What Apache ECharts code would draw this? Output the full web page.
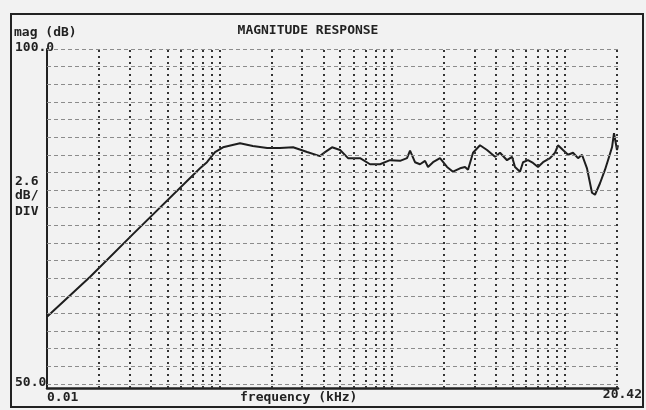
<!DOCTYPE html>
<html>
<head>
<meta charset="utf-8">
<title>Magnitude Response</title>
<script src="https://cdn.jsdelivr.net/npm/echarts@6/dist/echarts.min.js"></script>
<style>
  html, body { margin: 0; padding: 0; background: #f2f2f2; }
  #chart { width: 646px; height: 410px; }
</style>
</head>
<body>
<div id="chart"></div>
<script>
// 频率 (kHz)
const freq = [
  0.01, 0.0178, 0.0315, 0.0771, 0.0846, 0.0942, 0.1048, 0.1315, 0.156, 0.189,
  0.224, 0.267, 0.322, 0.382, 0.409, 0.449, 0.5, 0.556, 0.653, 0.746,
  0.852, 0.974, 1.113, 1.222, 1.272, 1.359, 1.453, 1.554, 1.617, 1.729,
  1.898, 2.084, 2.257, 2.479, 2.65, 2.758, 2.949, 3.237, 3.554, 3.955,
  4.228, 4.642, 4.963, 5.164, 5.521, 5.747, 6.144, 6.568, 7.022, 7.506,
  8.241, 8.81, 9.17, 9.8, 10.48, 11.2, 11.98, 12.63, 13.5, 14.43,
  15.02, 16.06, 17.17, 17.87, 18.85, 19.36, 20.15, 20.42
];
// 幅值 (dB)
const mag = [
  60.5, 66.4, 72.7, 82.4, 83.3, 84.8, 85.5, 86.1, 85.7, 85.4,
  85.4, 85.5, 84.8, 84.2, 84.8, 85.5, 85.1, 83.9, 83.9, 83.0,
  83.0, 83.6, 83.5, 83.9, 85.0, 83.3, 83.0, 83.5, 82.6, 83.3,
  83.9, 82.6, 81.9, 82.4, 82.6, 82.2, 84.7, 85.8, 85.1, 84.1,
  84.7, 83.6, 84.1, 82.6, 81.9, 83.3, 83.6, 83.2, 82.6, 83.3,
  83.9, 84.7, 85.8, 85.1, 84.4, 84.7, 83.9, 84.4, 82.4, 78.8,
  78.5, 80.2, 82.2, 83.6, 85.5, 87.6, 85.1, 85.8
];
// 竖向网格 (kHz)
const vGrid = [
  0.02, 0.03, 0.04, 0.05, 0.06, 0.07, 0.08, 0.09,
  0.1, 0.2, 0.3, 0.4, 0.5, 0.6, 0.7, 0.8, 0.9,
  1, 2, 3, 4, 5, 6, 7, 8, 9,
  10, 20
];
// 横向网格 (dB), 2.6 dB/div
const hGrid = [
  100, 97.4, 94.8, 92.2, 89.6, 87, 84.4, 81.8, 79.2, 76.6,
  74, 71.4, 68.8, 66.2, 63.6, 61, 58.4, 55.8, 53.2, 50.6
];
const xMin = 0.01;
const xMax = 20.42;
const yMin = 50;
const yMax = 100;

const font = 'bold 13px "DejaVu Sans Mono", monospace';
const ink = '#222';

let myChart = echarts.init(document.getElementById('chart'));

function txt(x, y, text, align) {
  return {
    type: 'text',
    x: x,
    y: y,
    silent: true,
    style: {
      text: text,
      font: font,
      fill: ink,
      align: align || 'left',
      verticalAlign: 'middle',
    },
  };
}

let option = {
  backgroundColor: '#f2f2f2',
  animation: false,
  grid: { left: 47, top: 49, right: 28, bottom: 22 },
  xAxis: {
    type: 'log',
    logBase: 10,
    min: xMin,
    max: xMax,
    axisLine: { show: true, onZero: false, lineStyle: { color: ink, width: 2.5 } },
    axisTick: { show: false },
    axisLabel: { show: false },
    splitLine: { show: false },
  },
  yAxis: {
    type: 'value',
    min: yMin,
    max: yMax,
    axisLine: { show: true, onZero: false, lineStyle: { color: ink, width: 2 } },
    axisTick: { show: false },
    axisLabel: { show: false },
    splitLine: { show: false },
  },
  graphic: [
    // 外框
    {
      type: 'rect',
      silent: true,
      shape: { x: 11, y: 14, width: 632, height: 393 },
      style: { fill: 'none', stroke: ink, lineWidth: 2 },
    },
    txt(308, 31, 'MAGNITUDE RESPONSE', 'center'),
    txt(14, 33, 'mag (dB)'),
    txt(15, 48, '100.0'),
    txt(15, 182, '2.6'),
    txt(15, 196, 'dB/'),
    txt(15, 212, 'DIV'),
    txt(15, 383, '50.0'),
    txt(47, 398, '0.01'),
    txt(240, 398, 'frequency (kHz)'),
    txt(642, 395, '20.42', 'right'),
  ],
  series: [
    {
      // 横向虚线网格
      type: 'line',
      data: [],
      silent: true,
      markLine: {
        silent: true,
        symbol: 'none',
        label: { show: false },
        lineStyle: { color: '#8c8c8c', width: 1, type: [4, 3] },
        data: hGrid.map((v) => ({ yAxis: v })),
      },
    },
    {
      // 竖向点状网格
      type: 'line',
      data: [],
      silent: true,
      markLine: {
        silent: true,
        symbol: 'none',
        label: { show: false },
        lineStyle: { color: '#333', width: 2, type: [2, 4] },
        data: vGrid.map((v) => ({ xAxis: v })),
      },
    },
    {
      name: 'magnitude',
      type: 'line',
      data: freq.map((f, i) => [f, mag[i]]),
      showSymbol: false,
      smooth: false,
      lineStyle: { color: '#1e1e1e', width: 2 },
    },
  ],
};

myChart.setOption(option);
window.addEventListener('resize', () => {
  myChart.resize();
});
</script>
</body>
</html>
